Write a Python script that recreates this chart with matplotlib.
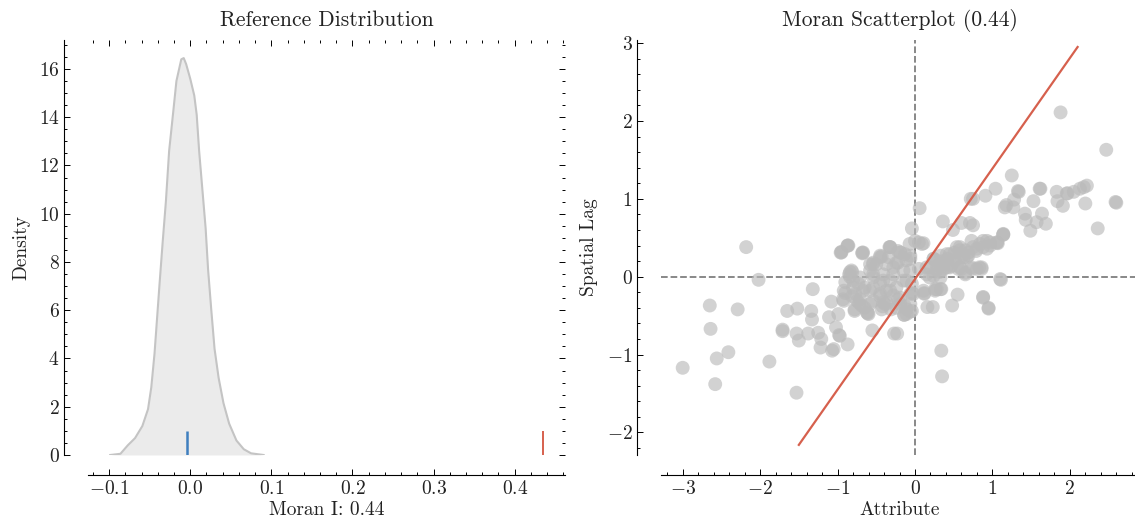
import matplotlib
matplotlib.use("Agg")
import matplotlib.pyplot as plt
from matplotlib.ticker import AutoMinorLocator

# reference distribution (density curve of simulated I values)
kde_x = [-0.0986, -0.086, -0.077, -0.068, -0.059, -0.052, -0.048, -0.044, -0.041,
         -0.038, -0.034, -0.030, -0.026, -0.021, -0.017, -0.011, -0.008, -0.005,
         0.000, 0.005, 0.008, 0.011, 0.015, 0.019, 0.022, 0.026, 0.030, 0.035,
         0.041, 0.048, 0.057, 0.066, 0.075, 0.0905]
kde_y = [0.0, 0.05, 0.4, 0.7, 1.2, 1.9, 2.8, 4.2, 5.6,
         7.0, 8.8, 10.5, 12.6, 14.2, 15.5, 16.4, 16.45, 16.2,
         15.6, 14.9, 14.1, 12.6, 11.0, 9.4, 7.7, 6.0, 4.4, 3.2,
         2.15, 1.3, 0.6, 0.24, 0.07, 0.0]
moran_i = 0.435
expected_i = -0.004

# moran scatter: standardized attribute vs spatial lag
attribute = [
    -3.00, -2.58, -2.56, -2.41, -2.64, -2.65, -2.29, -2.18, -2.02, -1.88,
    -1.53, -1.71, -1.71, -1.65, -1.52, -1.53, -1.50, -1.34, -1.33, -1.32,
    -1.38, -1.25, -1.21, -1.22, -1.11, -1.07, -1.05, -0.99, -1.02, -0.98,
    -0.97, -0.87, -1.08, -0.92, -0.55, -0.27, -0.23, -0.95, -0.87, -0.67,
    -0.84, -0.85, -0.80, -0.90, -0.92, -0.77, -0.78, -0.69, -0.60, -0.71,
    -0.58, -0.54, -0.50, -0.43, -0.32, -0.19, -0.06, -0.04, 0.06, 0.05,
    0.11, -0.34, -0.28, -0.22, -0.15, -0.11, -0.45, -0.37, -0.28, -0.39,
    -0.43, -0.19, -0.11, -0.14, -0.04, -0.02, -0.04, -0.24, -0.54, -0.65,
    -0.73, -0.32, -0.41, -0.54, -0.58, 0.00, -0.07,
    0.12, 0.16, 0.23, 0.26, 0.34, 0.34, 0.35, 0.48, 0.55, 0.88,
    0.95, 0.95, 1.11, 0.65, 0.58, 0.86, 0.80, 0.36, 0.49, 0.60,
    0.71, 0.75, 0.75, 0.91, 1.04, 1.14, 1.07, 0.93, 0.88, 0.73,
    0.65, 0.54, 0.45, 0.39, 0.32, 0.24, 0.19, 0.28, 0.41, 0.52,
    0.60, 0.69, 0.80, 0.97, 1.16, 1.18, 1.27, 1.28, 1.34, 1.53,
    1.62, 1.42, 1.43, 1.49, 1.57, 1.64, 1.69, 1.83, 1.84, 1.91,
    1.96, 2.05, 2.18, 2.22, 2.20, 2.36, 2.60,
    1.88, 2.47, 1.25, 0.72, 1.33, 1.61, 1.97, 2.13, 2.59,
    -0.95, -0.87, -0.68, -0.81, -0.84, -0.90, -0.93, -0.81, -0.72, -0.65,
    -0.61, -0.54, -0.45, -0.33, -0.22, -0.13, -0.06, -0.45, -0.36, -0.42,
    -0.31, -0.22, -0.13, -0.14, -0.06, -0.04,
    0.24, 0.33, 0.42, 0.51, 0.58, 0.63, 0.69, 0.79, 0.88, 0.97,
    1.06, 1.14, 0.28, 0.37, 0.47, 0.56, 0.65, 0.74, 0.83, 0.33,
    0.24, 0.15, 0.05, 0.12, 0.26, 0.33, 1.10, 0.88,
    -0.86, -0.96, -0.68, -0.32, -0.45, -0.19, -0.11, -0.58, -0.37, -0.24,
    -0.82, -0.71, -0.54, -0.41, -0.28, -0.15, -0.06, -0.80, -0.67, -0.54,
    -0.45, -0.32, -0.19, -0.06, -0.75, -0.58, -0.41, -0.24, -0.11, -0.06,
    -0.62, -0.78,
    0.15, 0.28, 0.41, 0.50, 0.58, 0.67, 0.75, 0.84, 0.93, 1.06,
    1.14, 0.19, 0.32, 0.45, 0.60, 0.73, 0.86, 0.09, 0.11, 0.28,
]
spatial_lag = [
    -1.17, -1.38, -1.05, -0.97, -0.67, -0.37, -0.42, 0.38, -0.04, -1.09,
    -1.49, -0.68, -0.70, -0.44, -0.41, -0.73, -0.82, -0.44, -0.55, -0.16,
    -0.73, -0.72, -0.80, -0.91, -0.52, -0.95, -0.93, -0.48, -0.65, -0.75,
    -0.76, -0.87, -0.32, -0.31, -0.69, -0.73, -0.73, 0.31, 0.40, 0.31,
    0.06, 0.03, -0.05, -0.07, -0.18, -0.22, -0.44, -0.37, -0.48, -0.29,
    -0.18, -0.01, 0.16, 0.26, 0.38, 0.31, 0.23, 0.62, 0.88, 0.44,
    0.43, 0.25, 0.12, 0.18, 0.08, -0.05, -0.09, -0.18, -0.24, -0.35,
    -0.42, -0.35, -0.42, -0.49, -0.44, -0.22, -0.09, -0.14, -0.31, -0.14,
    -0.09, -0.05, 0.03, 0.16, 0.08, 0.46, 0.42,
    -0.22, -0.39, -0.39, -0.18, -0.16, -0.95, -1.28, -0.37, -0.23, -0.27,
    -0.40, -0.41, -0.04, 0.03, 0.12, 0.12, 0.10, 0.71, 0.60, 0.69,
    0.69, 0.66, 1.00, 1.04, 1.13, 0.54, 0.43, 0.36, 0.46, 0.46,
    0.34, 0.38, 0.29, 0.21, 0.16, 0.23, 0.12, 0.08, 0.12, 0.21,
    0.25, 0.31, 0.36, 0.40, 0.89, 0.92, 0.89, 0.99, 1.09, 0.97,
    1.13, 0.81, 0.73, 0.59, 0.70, 0.81, 0.68, 1.09, 0.97, 0.91,
    1.07, 1.09, 1.15, 1.17, 0.94, 0.62, 0.95,
    2.11, 1.63, 1.30, 1.00, 1.10, 1.13, 1.07, 1.13, 0.96,
    0.32, 0.40, 0.31, 0.06, 0.00, -0.21, -0.29, -0.25, -0.34, -0.40,
    -0.47, 0.18, 0.25, 0.38, 0.33, 0.29, 0.27, -0.25, -0.34, -0.38,
    -0.42, -0.29, -0.38, -0.49, -0.45, -0.21,
    0.23, 0.27, 0.23, 0.31, 0.38, 0.25, 0.27, 0.33, 0.38, 0.44,
    0.44, 0.54, 0.14, 0.10, 0.14, 0.10, 0.05, 0.10, 0.12, -0.01,
    0.01, 0.03, 0.10, -0.21, -0.16, -0.16, -0.03, -0.26,
    0.40, 0.31, 0.30, 0.38, 0.27, 0.31, 0.21, 0.16, 0.16, 0.18,
    0.08, -0.01, 0.03, -0.05, 0.03, -0.05, 0.08, -0.14, -0.18, -0.14,
    -0.22, -0.18, -0.27, -0.22, -0.31, -0.35, -0.33, -0.40, -0.48, -0.35,
    -0.46, -0.42,
    0.12, 0.21, 0.29, 0.21, 0.34, 0.25, 0.38, 0.42, 0.46, 0.44,
    0.55, -0.01, 0.06, 0.12, 0.10, 0.12, 0.10, 0.42, -0.18, -0.16,
]
fit_x = [-1.50, 2.10]
fit_y = [-2.16, 2.95]

plt.rcParams["font.family"] = "cmr10"
plt.rcParams["mathtext.fontset"] = "cm"
plt.rcParams["axes.formatter.use_mathtext"] = True
plt.rcParams["font.size"] = 14
plt.rcParams["text.color"] = "#222222"
plt.rcParams["axes.labelcolor"] = "#222222"
plt.rcParams["xtick.labelcolor"] = "#222222"
plt.rcParams["ytick.labelcolor"] = "#222222"

W, H = 1135, 527
fig = plt.figure(figsize=(W / 100, H / 100), dpi=100)


def style_axes(ax, mirror):
    ax.spines["left"].set_position(("outward", 17))
    ax.spines["bottom"].set_position(("outward", 14.5))
    ax.spines["top"].set_visible(False)
    ax.spines["right"].set_visible(False)
    for s in ("left", "bottom"):
        ax.spines[s].set_linewidth(0.8)
    ax.xaxis.set_minor_locator(AutoMinorLocator())
    ax.yaxis.set_minor_locator(AutoMinorLocator())
    ax.tick_params(which="both", direction="in", top=mirror, right=mirror,
                   width=0.7, labelsize=14)
    ax.tick_params(which="major", length=4.5)
    ax.tick_params(which="minor", length=2.2)


# left: reference distribution
ax1 = fig.add_axes([88 / W, 1 - 455 / H, 477 / W, 415 / H])
ax1.fill_between(kde_x, kde_y, color="#bababa", alpha=0.28, linewidth=0)
ax1.plot(kde_x, kde_y, color="#c4c4c4", lw=1.5)
ax1.vlines(expected_i, 0, 1, color="#3f7fbf", lw=1.8)
ax1.vlines(moran_i, 0, 1, color="#d6604d", lw=1.4)
ax1.set_xlim(-0.126, 0.462)
ax1.set_ylim(0, 17.2)
ax1.set_title("Reference Distribution", fontsize=15.5, pad=10)
ax1.set_xlabel("Moran I: 0.44", fontsize=14, labelpad=2)
ax1.set_ylabel("Density", fontsize=14, labelpad=6)
style_axes(ax1, True)

# right: moran scatterplot
ax2 = fig.add_axes([661 / W, 1 - 455 / H, 477 / W, 415 / H])
ax2.scatter(attribute, spatial_lag, s=100, color="#bababa", alpha=0.65,
            edgecolors="none", zorder=2)
ax2.axvline(0, alpha=0.5, color="k", linestyle="--", lw=1.3, zorder=1)
ax2.axhline(0, alpha=0.5, color="k", linestyle="--", lw=1.3, zorder=1)
ax2.plot(fit_x, fit_y, color="#d6604d", lw=1.6, zorder=3)
ax2.set_xlim(-3.28, 2.88)
ax2.set_ylim(-2.29, 3.04)
ax2.set_title("Moran Scatterplot (0.44)", fontsize=15.5, pad=10)
ax2.set_xlabel("Attribute", fontsize=14, labelpad=2)
ax2.set_ylabel("Spatial Lag", fontsize=14, labelpad=6)
style_axes(ax2, False)

fig.savefig("out.png", dpi=100)
